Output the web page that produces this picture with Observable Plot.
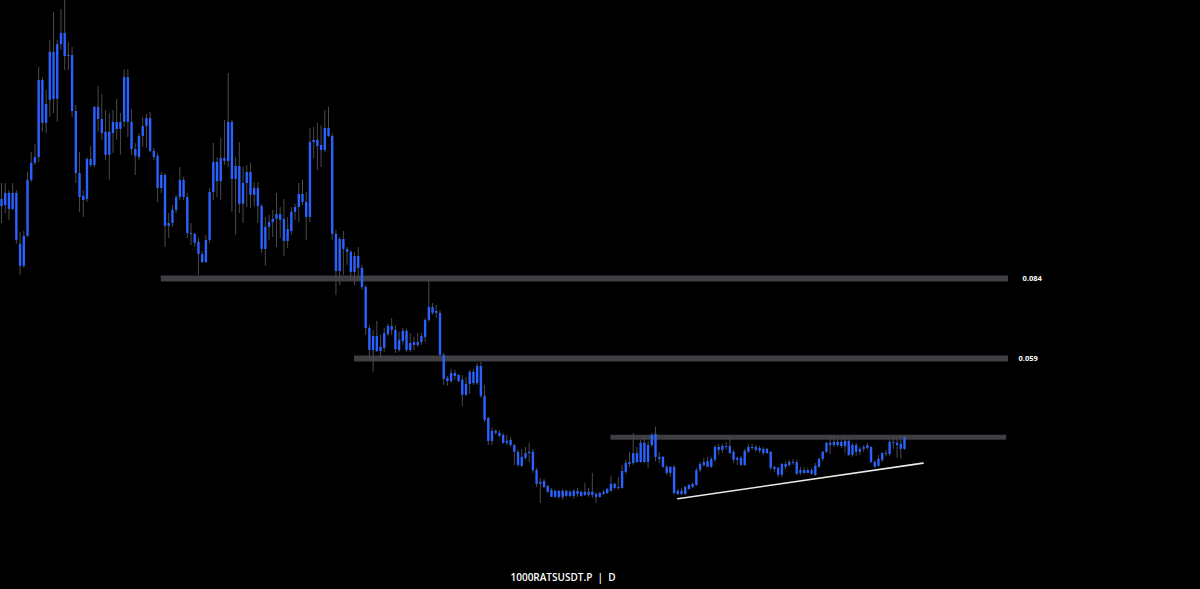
<!DOCTYPE html>
<html>
<head>
<meta charset="utf-8">
<script src="https://cdn.jsdelivr.net/npm/d3@7"></script>
<script src="https://cdn.jsdelivr.net/npm/@observablehq/plot@0.6"></script>
<style>
  html, body { margin: 0; padding: 0; background: #000; overflow: hidden; }
  #chart svg { display: block; }
  #caption {
    height: 23px; line-height: 23px; color: #fff;
    font-family: "Open Sans", "DejaVu Sans", sans-serif; font-size: 10px; font-weight: 600;
    text-align: center; padding-right: 74px; white-space: pre;
  }
</style>
</head>
<body>
<div id="chart"></div>
<div id="caption"></div>
<script>
// Daily candles of 1000RATSUSDT.P, one entry per bar
const open = [0.1065,0.1106,0.1056,0.1106,0.1106,0.0878,0.0878,0.0972,0.1147,0.1200,
0.1218,0.1459,0.1325,0.1397,0.1400,0.1400,0.1606,0.1606,0.1537,0.1537,
0.1362,0.1168,0.1084,0.1087,0.1193,0.1193,0.1375,0.1337,0.1297,0.1225,
0.1293,0.1328,0.1306,0.1328,0.1468,0.1328,0.1222,0.1218,0.1284,0.1340,
0.1340,0.1237,0.1222,0.1162,0.1162,0.1003,0.1012,0.1053,0.1093,0.1147,
0.1093,0.0981,0.0978,0.0953,0.0890,0.0890,0.0959,0.1109,0.1143,0.1143,
0.1206,0.1206,0.1328,0.1190,0.1190,0.1072,0.1172,0.1172,0.1121,0.1121,
0.1065,0.0931,0.1000,0.1015,0.1025,0.1040,0.1025,0.0956,0.0987,0.1047,
0.1062,0.1103,0.1078,0.1031,0.1272,0.1272,0.1240,0.1240,0.1309,0.1284,
0.0978,0.0862,0.0962,0.0931,0.0922,0.0859,0.0909,0.0872,0.0812,0.0684,
0.0615,0.0659,0.0612,0.0622,0.0665,0.0690,0.0678,0.0615,0.0643,0.0675,
0.0615,0.0631,0.0631,0.0640,0.0656,0.0709,0.0750,0.0737,0.0731,0.0600,
0.0518,0.0518,0.0543,0.0537,0.0522,0.0475,0.0509,0.0547,0.0512,0.0565,
0.0472,0.0403,0.0331,0.0362,0.0356,0.0350,0.0331,0.0334,0.0318,0.0297,
0.0253,0.0278,0.0297,0.0297,0.0240,0.0203,0.0206,0.0190,0.0178,0.0156,
0.0175,0.0156,0.0175,0.0159,0.0175,0.0165,0.0172,0.0162,0.0172,0.0162,
0.0165,0.0156,0.0165,0.0168,0.0175,0.0197,0.0184,0.0184,0.0234,0.0259,
0.0262,0.0293,0.0265,0.0325,0.0265,0.0318,0.0353,0.0281,0.0281,0.0250,
0.0231,0.0250,0.0165,0.0175,0.0165,0.0181,0.0187,0.0193,0.0240,0.0256,
0.0268,0.0250,0.0272,0.0312,0.0303,0.0315,0.0315,0.0297,0.0272,0.0278,
0.0256,0.0297,0.0312,0.0312,0.0309,0.0306,0.0293,0.0297,0.0250,0.0247,
0.0225,0.0250,0.0256,0.0265,0.0265,0.0231,0.0240,0.0231,0.0240,0.0225,
0.0250,0.0275,0.0297,0.0325,0.0318,0.0328,0.0315,0.0315,0.0331,0.0287,
0.0318,0.0297,0.0306,0.0309,0.0312,0.0265,0.0253,0.0272,0.0293,0.0290,
0.0328,0.0325,0.0322,0.0306];

const high = [0.1137,0.1137,0.1115,0.1137,0.1115,0.0984,0.0987,0.1172,0.1234,0.1259,
0.1500,0.1468,0.1428,0.1584,0.1672,0.1584,0.1681,0.1709,0.1578,0.1562,
0.1381,0.1234,0.1115,0.1218,0.1253,0.1378,0.1440,0.1415,0.1365,0.1356,
0.1365,0.1400,0.1356,0.1493,0.1493,0.1368,0.1262,0.1293,0.1343,0.1353,
0.1359,0.1247,0.1231,0.1172,0.1168,0.1043,0.1068,0.1100,0.1187,0.1156,
0.1106,0.1012,0.0981,0.0965,0.0925,0.0975,0.1121,0.1262,0.1218,0.1278,
0.1334,0.1481,0.1334,0.1218,0.1265,0.1187,0.1193,0.1200,0.1140,0.1140,
0.1072,0.1031,0.1037,0.1053,0.1106,0.1062,0.1087,0.1031,0.1062,0.1072,
0.1137,0.1147,0.1109,0.1309,0.1312,0.1325,0.1318,0.1365,0.1375,0.1293,
0.0990,0.0968,0.0987,0.0937,0.0928,0.0922,0.0937,0.0881,0.0818,0.0693,
0.0678,0.0706,0.0662,0.0684,0.0697,0.0715,0.0693,0.0672,0.0684,0.0681,
0.0668,0.0656,0.0668,0.0668,0.0715,0.0837,0.0762,0.0756,0.0740,0.0606,
0.0534,0.0556,0.0553,0.0540,0.0537,0.0531,0.0553,0.0556,0.0575,0.0578,
0.0506,0.0406,0.0372,0.0368,0.0365,0.0356,0.0350,0.0343,0.0322,0.0303,
0.0306,0.0312,0.0325,0.0306,0.0247,0.0215,0.0212,0.0193,0.0184,0.0178,
0.0178,0.0181,0.0178,0.0178,0.0181,0.0184,0.0175,0.0200,0.0184,0.0231,
0.0172,0.0172,0.0178,0.0184,0.0222,0.0200,0.0218,0.0256,0.0272,0.0297,
0.0356,0.0312,0.0334,0.0340,0.0331,0.0356,0.0375,0.0297,0.0284,0.0256,
0.0253,0.0256,0.0181,0.0184,0.0190,0.0197,0.0200,0.0247,0.0265,0.0278,
0.0281,0.0281,0.0318,0.0322,0.0322,0.0328,0.0343,0.0303,0.0281,0.0284,
0.0306,0.0322,0.0322,0.0318,0.0315,0.0312,0.0309,0.0300,0.0253,0.0250,
0.0262,0.0268,0.0272,0.0275,0.0272,0.0250,0.0247,0.0247,0.0247,0.0262,
0.0278,0.0300,0.0328,0.0350,0.0350,0.0337,0.0334,0.0347,0.0337,0.0325,
0.0325,0.0312,0.0318,0.0325,0.0315,0.0272,0.0287,0.0297,0.0303,0.0334,
0.0347,0.0343,0.0347,0.0347];

const low = [0.1012,0.1043,0.1022,0.1053,0.0947,0.0850,0.0872,0.0968,0.1140,0.1193,
0.1203,0.1297,0.1293,0.1343,0.1356,0.1328,0.1553,0.1490,0.1490,0.1343,
0.1137,0.1047,0.1031,0.1078,0.1187,0.1187,0.1297,0.1272,0.1209,0.1147,
0.1231,0.1272,0.1225,0.1312,0.1281,0.1225,0.1162,0.1209,0.1250,0.1247,
0.1234,0.1209,0.1078,0.1106,0.0937,0.0965,0.1000,0.1043,0.1084,0.1084,
0.0965,0.0943,0.0937,0.0850,0.0887,0.0887,0.0950,0.1084,0.1093,0.1084,
0.1193,0.1187,0.1047,0.0975,0.1043,0.1012,0.1062,0.1059,0.1065,0.1012,
0.0918,0.0878,0.0959,0.0968,0.0937,0.0965,0.0909,0.0934,0.0975,0.1022,
0.1015,0.1068,0.0959,0.1015,0.1215,0.1178,0.1187,0.1234,0.1281,0.0959,
0.0787,0.0818,0.0850,0.0881,0.0834,0.0818,0.0834,0.0803,0.0662,0.0584,
0.0547,0.0609,0.0590,0.0609,0.0659,0.0662,0.0606,0.0609,0.0631,0.0609,
0.0609,0.0615,0.0625,0.0631,0.0640,0.0703,0.0725,0.0715,0.0597,0.0506,
0.0503,0.0512,0.0522,0.0515,0.0440,0.0472,0.0478,0.0506,0.0506,0.0465,
0.0390,0.0318,0.0318,0.0350,0.0343,0.0322,0.0318,0.0312,0.0256,0.0250,
0.0250,0.0272,0.0265,0.0231,0.0187,0.0137,0.0184,0.0168,0.0156,0.0153,
0.0150,0.0147,0.0156,0.0156,0.0150,0.0156,0.0156,0.0159,0.0156,0.0153,
0.0137,0.0153,0.0162,0.0165,0.0172,0.0181,0.0178,0.0181,0.0228,0.0250,
0.0256,0.0262,0.0262,0.0262,0.0247,0.0312,0.0268,0.0262,0.0247,0.0225,
0.0218,0.0162,0.0162,0.0162,0.0162,0.0178,0.0184,0.0190,0.0234,0.0250,
0.0250,0.0247,0.0265,0.0287,0.0293,0.0303,0.0290,0.0262,0.0256,0.0253,
0.0253,0.0293,0.0303,0.0297,0.0293,0.0287,0.0290,0.0240,0.0234,0.0218,
0.0218,0.0243,0.0250,0.0256,0.0225,0.0225,0.0228,0.0231,0.0225,0.0222,
0.0247,0.0268,0.0293,0.0290,0.0312,0.0312,0.0309,0.0293,0.0284,0.0281,
0.0284,0.0287,0.0297,0.0303,0.0262,0.0247,0.0250,0.0265,0.0284,0.0284,
0.0306,0.0278,0.0275,0.0303];

const close = [0.1087,0.1068,0.1106,0.1056,0.0959,0.0947,0.0972,0.1147,0.1200,0.1218,
0.1459,0.1325,0.1384,0.1547,0.1547,0.1571,0.1571,0.1534,0.1534,0.1362,
0.1168,0.1093,0.1097,0.1212,0.1212,0.1375,0.1337,0.1293,0.1225,0.1297,
0.1328,0.1306,0.1328,0.1468,0.1328,0.1243,0.1243,0.1284,0.1315,0.1315,
0.1237,0.1218,0.1121,0.1121,0.1003,0.1012,0.1053,0.1093,0.1147,0.1093,
0.0981,0.0978,0.0950,0.0915,0.0915,0.0959,0.1109,0.1203,0.1203,0.1215,
0.1215,0.1328,0.1150,0.1150,0.1072,0.1137,0.1137,0.1100,0.1100,0.1065,
0.0931,0.1000,0.1015,0.1025,0.1040,0.1022,0.0956,0.0993,0.1047,0.1062,
0.1103,0.1078,0.1031,0.1265,0.1265,0.1253,0.1256,0.1309,0.1284,0.0978,
0.0862,0.0962,0.0931,0.0922,0.0859,0.0909,0.0872,0.0812,0.0684,0.0615,
0.0659,0.0612,0.0625,0.0668,0.0690,0.0678,0.0618,0.0647,0.0675,0.0615,
0.0637,0.0640,0.0640,0.0659,0.0709,0.0750,0.0731,0.0731,0.0600,0.0525,
0.0528,0.0543,0.0534,0.0518,0.0475,0.0509,0.0547,0.0512,0.0565,0.0472,
0.0397,0.0331,0.0362,0.0356,0.0347,0.0325,0.0325,0.0318,0.0297,0.0256,
0.0281,0.0293,0.0293,0.0240,0.0197,0.0197,0.0187,0.0172,0.0156,0.0175,
0.0156,0.0175,0.0159,0.0172,0.0159,0.0175,0.0159,0.0172,0.0162,0.0172,
0.0156,0.0168,0.0172,0.0181,0.0197,0.0184,0.0187,0.0237,0.0262,0.0265,
0.0293,0.0265,0.0325,0.0265,0.0318,0.0350,0.0281,0.0275,0.0250,0.0231,
0.0250,0.0168,0.0175,0.0165,0.0187,0.0193,0.0197,0.0240,0.0259,0.0265,
0.0250,0.0275,0.0312,0.0303,0.0315,0.0312,0.0293,0.0272,0.0278,0.0256,
0.0300,0.0312,0.0309,0.0303,0.0300,0.0293,0.0306,0.0247,0.0243,0.0225,
0.0259,0.0259,0.0265,0.0262,0.0228,0.0240,0.0231,0.0240,0.0228,0.0253,
0.0275,0.0297,0.0325,0.0318,0.0328,0.0318,0.0328,0.0331,0.0287,0.0318,
0.0297,0.0306,0.0312,0.0318,0.0265,0.0250,0.0275,0.0293,0.0290,0.0328,
0.0325,0.0318,0.0306,0.0343];

// Horizontal levels (price, first bar, last bar) and their labels
const levelPrice = [0.084, 0.059];
const levelLabel = ["0.084", "0.059"];
const levelFrom = [43, 95];
const levelTo = [271, 271];

// Resistance zone over the recent range
const resistancePrice = 0.0344;
const resistanceFrom = 164;
const resistanceTo = 270.5;

// Rising support trendline (bar index, price)
const trendBars = [182, 248];
const trendPrices = [0.0152, 0.0263];

const captionText = "1000RATSUSDT.P  |  D";

// ---- build tables ----
const candles = open.map((o, i) => ({i, open: o, high: high[i], low: low[i], close: close[i]}));
const levels = levelPrice.map((p, k) => ({price: p, label: levelLabel[k], from: levelFrom[k], to: levelTo[k]}));
const resistance = [{price: resistancePrice, from: resistanceFrom, to: resistanceTo}];
const trend = trendBars.map((b, k) => ({i: b, price: trendPrices[k]}));

const W = 1200, H = 566;
const labelDx = [14, 10];

const chart = Plot.plot({
  width: W,
  height: H,
  margin: 0,
  style: {background: "#000", fontFamily: "'Open Sans', 'DejaVu Sans', sans-serif", overflow: "visible"},
  x: {domain: [-0.27, 322.66], axis: null},
  y: {domain: [-0.006, 0.1709], axis: null},
  marks: [
    Plot.ruleY(levels, {y: "price", x1: "from", x2: "to", stroke: "#3e3e43", strokeWidth: 6}),
    Plot.ruleY(resistance, {y: "price", x1: "from", x2: "to", stroke: "#3e3e43", strokeWidth: 5}),
    Plot.ruleX(candles, {x: "i", y1: "low", y2: "high", stroke: "#4a4a4e", strokeWidth: 1}),
    Plot.ruleX(candles, {x: "i", y1: "open", y2: "close", stroke: "#2962ff", strokeWidth: 2.4}),
    Plot.line(trend, {x: "i", y: "price", stroke: "#e8e8e8", strokeWidth: 1.6}),
    ...levels.map((d, k) => Plot.text([d], {
      x: "to", y: "price", text: "label", dx: labelDx[k], textAnchor: "start",
      fill: "#ffffff", fontSize: 7.5, fontWeight: "bold"
    }))
  ]
});
document.getElementById("chart").appendChild(chart);
document.getElementById("caption").textContent = captionText;
</script>
</body>
</html>
